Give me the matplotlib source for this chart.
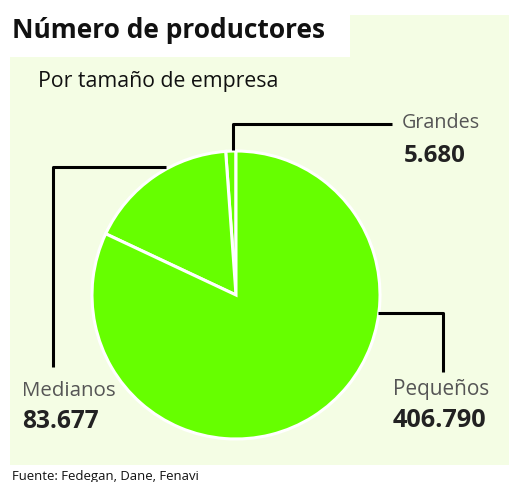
import matplotlib
matplotlib.use("Agg")
import matplotlib.pyplot as plt
from matplotlib.patches import Rectangle

categories = ["Grandes", "Medianos", "Pequeños"]
values = [5680, 83677, 406790]
value_labels = ["5.680", "83.677", "406.790"]

W, H = 510, 482
fig = plt.figure(figsize=(W / 100, H / 100), dpi=100)
fig.patch.set_facecolor("white")
ax = fig.add_axes([0, 0, 1, 1])

def Y(y):
    return H - y

panel = "#f4fde4"
green = "#66ff00"
ax.add_patch(Rectangle((10, Y(465)), 500, 450, facecolor=panel, edgecolor="none", zorder=0))
ax.add_patch(Rectangle((10, Y(57)), 340, 42, facecolor="white", edgecolor="none", zorder=1))
ax.add_patch(Rectangle((10, Y(482)), 202, 17, facecolor="white", edgecolor="none", zorder=1))

ax.pie(values, colors=[green] * 3, startangle=90, counterclock=True,
       center=(236, Y(295)), radius=144, frame=True,
       wedgeprops=dict(edgecolor="white", linewidth=2.2))

ax.set_xlim(0, W)
ax.set_ylim(0, H)
ax.set_aspect("auto")
ax.axis("off")

fam = ["Open Sans", "DejaVu Sans"]
renderer = fig.canvas.get_renderer()

def fit_text(x, ybase, s, width, color, weight="normal", size0=12):
    t = ax.text(x, Y(ybase), s, fontsize=size0, family=fam, fontweight=weight,
                color=color, va="baseline", ha="left", zorder=3)
    w = t.get_window_extent(renderer=renderer).width
    if w > 0:
        t.set_fontsize(size0 * width / w)
    return t

fit_text(12, 38, "Número de productores", 316, "#111111", "bold", 18)
fit_text(38, 87, "Por tamaño de empresa", 242, "#111111", "normal", 14)
fit_text(12, 480, "Fuente: Fedegan, Dane, Fenavi", 188, "#111111", "normal", 8)

lw = 2.2
ax.plot([233, 233, 392], [Y(150), Y(124), Y(124)], color="black", lw=lw, zorder=2,
        solid_capstyle="butt")
ax.plot([166, 53, 53], [Y(167), Y(167), Y(367)], color="black", lw=lw, zorder=2,
        solid_capstyle="butt")
ax.plot([378, 443, 443], [Y(313), Y(313), Y(372)], color="black", lw=lw, zorder=2,
        solid_capstyle="butt")

lab_col = "#555555"
num_col = "#222222"
pos = {
    "Grandes": (402, 128, 78, 404, 162, 62),
    "Medianos": (22, 396, 93, 22, 428, 77),
    "Pequeños": (393, 395, 96, 393, 427, 94),
}
for cat, vl in zip(categories, value_labels):
    x, yl, wl, xn, yn, wn = pos[cat]
    fit_text(x, yl, cat, wl, lab_col, "normal", 13)
    fit_text(xn, yn, vl, wn, num_col, "bold", 15)

fig.savefig("out.png", dpi=100, facecolor="white")
